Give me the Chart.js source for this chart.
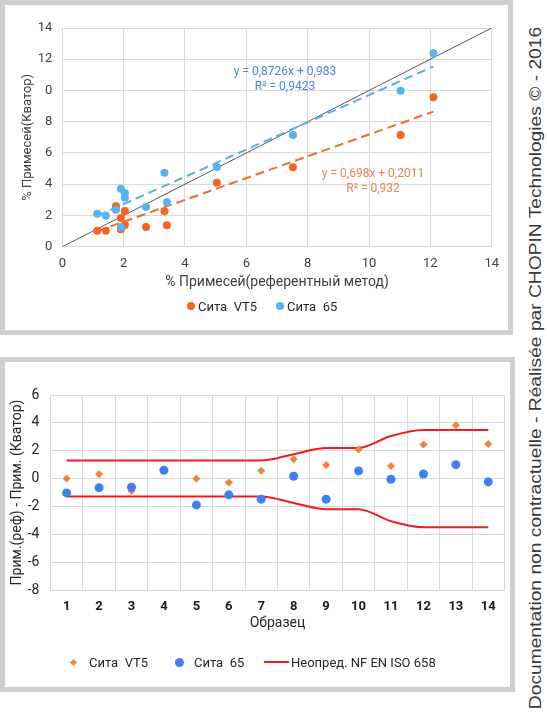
<!DOCTYPE html>
<html><head><meta charset="utf-8">
<script src="https://cdn.jsdelivr.net/npm/chart.js@4.4.1/dist/chart.umd.min.js"></script>
<style>
html,body{margin:0;padding:0;background:#fff;width:547px;height:720px;overflow:hidden;font-family:Roboto,'Open Sans',sans-serif;}
.panel{position:absolute;box-sizing:border-box;border:5px solid #CFCFCF;background:#fff;}
canvas{position:absolute;}
.leg{position:absolute;font-size:13px;line-height:15px;color:#262626;white-space:pre;}
.mk{position:absolute;}
#side{position:absolute;width:700px;height:16px;line-height:16px;font-size:16.3px;font-family:'Liberation Sans',Arial,sans-serif;color:#3a3a3a;text-align:center;white-space:pre;
 left:185.3px;top:359.5px;transform:rotate(-90deg) scaleX(1.18);transform-origin:50% 50%;}
</style></head><body>
<div class="panel" style="left:0;top:0;width:513px;height:335px;"></div>
<div class="panel" style="left:0;top:357px;width:515px;height:335px;"></div>
<canvas id="c1" width="502" height="323" style="left:6px;top:5px;"></canvas>
<canvas id="c2" width="503" height="324" style="left:6px;top:362px;"></canvas>

<div class="mk" style="left:187px;top:302px;width:8px;height:8px;border-radius:50%;background:#F26522;"></div>
<div class="leg" style="left:198px;top:299px;">Сита  VT5</div>
<div class="mk" style="left:276px;top:302px;width:8px;height:8px;border-radius:50%;background:#56B2F0;"></div>
<div class="leg" style="left:287px;top:299px;">Сита  65</div>

<div class="mk" style="left:71px;top:659.5px;width:5px;height:5px;background:#F5823A;transform:rotate(45deg);"></div>
<div class="leg" style="left:89px;top:655px;">Сита  VT5</div>
<div class="mk" style="left:175px;top:657.5px;width:9px;height:9px;border-radius:50%;background:#3D80F2;"></div>
<div class="leg" style="left:194px;top:655px;">Сита  65</div>
<div class="mk" style="left:264px;top:661px;width:25px;height:2px;background:#EE1C25;"></div>
<div class="leg" style="left:291px;top:655px;">Неопред. NF EN ISO 658</div>

<div id="side">Documentation non contractuelle - Réalisée par CHOPIN Technologies © - 2016</div>

<script>
// ---- Chart 1 data (scatter: reference method vs Kvator) ----
const refValues = [1.14, 1.42, 1.75, 1.91, 1.91, 2.04, 2.04, 2.73, 3.33, 3.41, 5.04, 7.52, 11.03, 12.10];
const kvatorVT5 = [1.02, 1.02, 2.59, 1.84, 1.11, 2.29, 1.39, 1.26, 2.27, 1.37, 4.10, 5.08, 7.15, 9.56];
const kvator65  = [2.11, 1.98, 2.37, 3.71, 1.24, 3.44, 3.14, 2.54, 4.74, 2.84, 5.10, 7.15, 9.99, 12.38];
const trendX    = [1.14, 12.10];
const trendVT5  = [1.00, 8.65];
const trend65   = [1.98, 11.54];
const diagonal  = [0, 14];
const scatterTicks = [0, 2, 4, 6, 8, 10, 12, 14];
const scatterYTickLabels = ['0', '2', '4', '6', '8', '0', '12', '14'];
const eqText65  = ['y = 0,8726x + 0,983', 'R² = 0,9423'];
const eqTextVT5 = ['y = 0,698x + 0,2011', 'R² = 0,932'];

// ---- Chart 2 data (differences per sample) ----
const samples = ['1','2','3','4','5','6','7','8','9','10','11','12','13','14'];
const diffVT5 = [0.00, 0.31, -0.90, 0.65, -0.02, -0.29, 0.57, 1.39, 0.98, 2.08, 0.91, 2.44, 3.83, 2.49];
const diff65  = [-1.03, -0.65, -0.62, 0.60, -1.89, -1.17, -1.48, 0.17, -1.48, 0.55, -0.05, 0.33, 1.00, -0.24];
const uncUpper = [1.29, 1.29, 1.29, 1.29, 1.29, 1.29, 1.29, 1.75, 2.20, 2.20, 3.06, 3.49, 3.49, 3.49];
const uncLower = [-1.29, -1.29, -1.29, -1.29, -1.29, -1.29, -1.29, -1.75, -2.20, -2.20, -3.06, -3.49, -3.49, -3.49];
const diffTicks = [-8, -6, -4, -2, 0, 2, 4, 6];

Chart.defaults.font.family = 'Roboto';
Chart.defaults.color = '#404040';
Chart.defaults.animation = false;

const GRID = '#D9D9D9';
const pts = (xs, ys) => xs.map((x, i) => ({x: x, y: ys[i]}));

const eqPlugin = {
  id: 'eqLabels',
  afterDatasetsDraw(chart, args, opts) {
    const ctx = chart.ctx, xs = chart.scales.x, ys = chart.scales.y;
    ctx.save();
    ctx.font = opts.font;
    ctx.textAlign = 'center';
    ctx.textBaseline = 'middle';
    opts.items.forEach(it => {
      ctx.fillStyle = it.color;
      it.lines.forEach((t, i) => {
        ctx.fillText(t, xs.getPixelForValue(it.x), ys.getPixelForValue(it.y[i]));
      });
    });
    ctx.restore();
  }
};

new Chart(document.getElementById('c1'), {
  type: 'scatter',
  data: { datasets: [
    {label: 'Сита  VT5', data: pts(refValues, kvatorVT5), backgroundColor: '#F26522', borderWidth: 0, pointRadius: 4, order: 1},
    {label: 'Сита  65', data: pts(refValues, kvator65), backgroundColor: '#56B2F0', borderWidth: 0, pointRadius: 4, order: 0},
    {label: 'trend VT5', data: pts(trendX, trendVT5), showLine: true, borderColor: '#F26B2E', borderWidth: 2, borderDash: [9, 5], pointRadius: 0, order: 2},
    {label: 'trend 65', data: pts(trendX, trend65), showLine: true, borderColor: '#5AAEEA', borderWidth: 2, borderDash: [9, 5], pointRadius: 0, order: 2},
    {label: 'y = x', data: pts(diagonal, diagonal), showLine: true, borderColor: '#595959', borderWidth: 1, pointRadius: 0, order: 3}
  ]},
  options: {
    responsive: false,
    layout: {padding: {left: 14, right: 16.3, top: 23, bottom: 36.9}},
    plugins: {
      legend: {display: false}, tooltip: {enabled: false},
      eqLabels: {font: '12px Roboto', items: [
        {lines: eqText65, x: 7.26, y: [11.18, 10.22], color: '#4F83E3'},
        {lines: eqTextVT5, x: 10.13, y: [4.65, 3.69], color: '#F0834E'}
      ]}
    },
    scales: {
      x: {
        type: 'linear', min: 0, max: 14,
        afterBuildTicks: s => { s.ticks = scatterTicks.map(v => ({value: v})); },
        ticks: {font: {size: 13}, padding: 9, color: '#404040'},
        grid: {color: GRID, drawTicks: false}, border: {color: GRID},
        title: {display: true, text: '% Примесей(референтный метод)', font: {size: 14}, color: '#404040', padding: {top: 0, bottom: 0}},
        afterFit: s => { s.height = 44.4; }
      },
      y: {
        type: 'linear', min: 0, max: 14,
        afterBuildTicks: s => { s.ticks = scatterTicks.map(v => ({value: v})); },
        ticks: {font: {size: 13}, padding: 10, color: '#404040',
          callback: v => scatterYTickLabels[scatterTicks.indexOf(v)]},
        grid: {color: GRID, drawTicks: false}, border: {color: GRID},
        title: {display: true, text: '% Примесей(Кватор)', font: {size: 13}, color: '#404040', padding: {top: 0, bottom: 0}},
        afterFit: s => { s.width = 42.3; }
      }
    }
  },
  plugins: [eqPlugin]
});

new Chart(document.getElementById('c2'), {
  type: 'line',
  data: { labels: samples, datasets: [
    {label: 'Сита  VT5', data: diffVT5, showLine: false, pointStyle: 'rectRot', pointRadius: 4, backgroundColor: '#F5823A', borderWidth: 0, order: 1},
    {label: 'Сита  65', data: diff65, showLine: false, pointStyle: 'circle', pointRadius: 4.5, backgroundColor: '#3D80F2', borderWidth: 0, order: 0},
    {label: 'Неопред. NF EN ISO 658', data: uncUpper, borderColor: '#EE1C25', borderWidth: 2, pointRadius: 0, cubicInterpolationMode: 'monotone', fill: false, order: 2},
    {label: 'Неопред. NF EN ISO 658 (-)', data: uncLower, borderColor: '#EE1C25', borderWidth: 2, pointRadius: 0, cubicInterpolationMode: 'monotone', fill: false, order: 2}
  ]},
  options: {
    responsive: false,
    layout: {padding: {left: 0, right: 3.6, top: 33, bottom: 54.3}},
    plugins: {legend: {display: false}, tooltip: {enabled: false}},
    scales: {
      x: {
        offset: true,
        grid: {offset: true, color: GRID, drawTicks: false}, border: {color: GRID},
        ticks: {font: {size: 13, weight: 'bold'}, color: '#1a1a1a', padding: 9},
        title: {display: true, text: 'Образец', font: {size: 14}, color: '#262626', padding: {top: 0, bottom: 0}},
        afterFit: s => { s.height = 41.7; }
      },
      y: {
        min: -8, max: 6,
        afterBuildTicks: s => { s.ticks = diffTicks.map(v => ({value: v})); },
        ticks: {font: {size: 14}, padding: 11, color: '#262626'},
        grid: {color: GRID, drawTicks: false}, border: {color: GRID},
        title: {display: true, text: 'Прим.(реф) - Прим. (Кватор)', font: {size: 14}, color: '#262626', padding: {top: 3, bottom: 0}},
        afterFit: s => { s.width = 44.4; }
      }
    }
  }
});
</script>
</body></html>
